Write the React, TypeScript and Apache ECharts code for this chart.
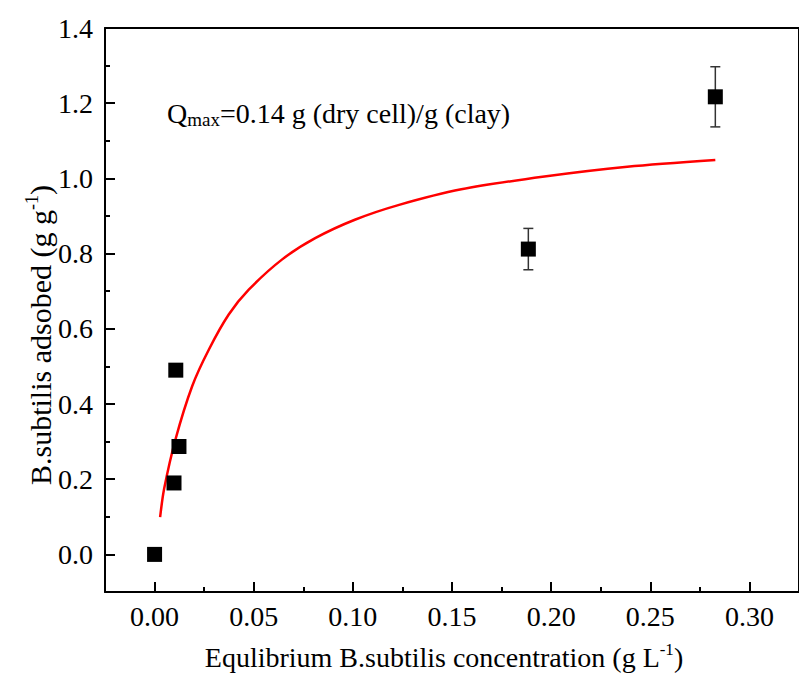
import React, { useEffect, useRef } from "react";
import * as echarts from "echarts";

const xMajorTicks = [0, 0.05, 0.1, 0.15, 0.2, 0.25, 0.3];
const xMinorTicks = [0.025, 0.075, 0.125, 0.175, 0.225, 0.275];
const yMajorTicks = [0, 0.2, 0.4, 0.6, 0.8, 1.0, 1.2, 1.4];
const yMinorTicks = [0.1, 0.3, 0.5, 0.7, 0.9, 1.1, 1.3];

const pointX = [0.0, 0.0107, 0.0123, 0.0098, 0.1885, 0.2828];
const pointY = [0.0, 0.49, 0.287, 0.19, 0.812, 1.217];
const pointErr = [0, 0, 0, 0, 0.055, 0.08];

const curveX = [0.0028, 0.0048, 0.0106, 0.019, 0.0274, 0.0374, 0.0475, 0.0642, 0.081, 0.101, 0.1229, 0.1547, 0.1966, 0.2384, 0.2828];
const curveY = [0.099, 0.174, 0.307, 0.448, 0.545, 0.638, 0.704, 0.784, 0.841, 0.89, 0.929, 0.971, 1.005, 1.031, 1.049];

const FONT = "'Liberation Serif', 'Times New Roman', serif";

export default function App() {
  const ref = useRef<HTMLDivElement>(null);
  useEffect(() => {
    if (!ref.current) return;
    const chart = echarts.init(ref.current, undefined, { renderer: "svg" });
    const scatterData = pointX.map((x, i) => [x, pointY[i]]);
    const errData = pointX
      .map((x, i) => [x, pointY[i] - pointErr[i], pointY[i] + pointErr[i], pointErr[i]])
      .filter((d) => d[3] > 0);
    const curveData = curveX.map((x, i) => [x, curveY[i]]);
    const axisLine = { show: true, onZero: false, lineStyle: { color: "#000", width: 2 } };
    const noLine = { show: false, onZero: false };
    const titleRich = (size: number) => ({
      t: { fontFamily: FONT, fontSize: size, fill: "#000", lineHeight: size + 4 },
      s: { fontFamily: FONT, fontSize: Math.round(size * 0.6), fill: "#000", lineHeight: size + 4, verticalAlign: "top", padding: [0, 0, Math.round(size * 0.45), 0] },
    });
    chart.setOption({
      animation: false,
      backgroundColor: "#fff",
      grid: { left: 105, top: 28, width: 697, height: 564 },
      xAxis: [
        {
          type: "value",
          min: -0.025,
          max: 0.325,
          position: "bottom",
          axisLine,
          splitLine: { show: false },
          axisTick: { show: true, inside: true, length: 10, customValues: xMajorTicks, lineStyle: { color: "#000", width: 2 } },
          axisLabel: {
            customValues: xMajorTicks,
            margin: 10,
            color: "#000",
            fontFamily: FONT,
            fontSize: 28,
            formatter: (v: number) => v.toFixed(2),
          },
        },
        {
          type: "value",
          min: -0.025,
          max: 0.325,
          position: "bottom",
          axisLine: noLine,
          splitLine: { show: false },
          axisTick: { show: true, inside: true, length: 5, customValues: xMinorTicks, lineStyle: { color: "#000", width: 2 } },
          axisLabel: { show: false },
        },
        {
          type: "value",
          min: -0.025,
          max: 0.325,
          position: "top",
          axisLine,
          splitLine: { show: false },
          axisTick: { show: false },
          axisLabel: { show: false },
        },
      ],
      yAxis: [
        {
          type: "value",
          min: -0.1,
          max: 1.4,
          position: "left",
          axisLine,
          splitLine: { show: false },
          axisTick: { show: true, inside: true, length: 10, customValues: yMajorTicks, lineStyle: { color: "#000", width: 2 } },
          axisLabel: {
            customValues: yMajorTicks,
            margin: 12,
            color: "#000",
            fontFamily: FONT,
            fontSize: 28,
            formatter: (v: number) => v.toFixed(1),
          },
        },
        {
          type: "value",
          min: -0.1,
          max: 1.4,
          position: "left",
          axisLine: noLine,
          splitLine: { show: false },
          axisTick: { show: true, inside: true, length: 5, customValues: yMinorTicks, lineStyle: { color: "#000", width: 2 } },
          axisLabel: { show: false },
        },
        {
          type: "value",
          min: -0.1,
          max: 1.4,
          position: "right",
          axisLine,
          splitLine: { show: false },
          axisTick: { show: false },
          axisLabel: { show: false },
        },
      ],
      graphic: [
        {
          type: "text",
          left: 167,
          top: 99,
          style: {
            text: "{q|Q}{s|max}{q|=0.14 g (dry cell)/g (clay)}",
            rich: {
              q: { fontFamily: FONT, fontSize: 28, fill: "#000", lineHeight: 32 },
              s: { fontFamily: FONT, fontSize: 19, fill: "#000", lineHeight: 32, verticalAlign: "bottom" },
            },
          },
        },
        {
          type: "text",
          x: 444,
          y: 657,
          style: {
            text: "{t|Equlibrium B.subtilis concentration (g L}{s|-1}{t|)}",
            align: "center",
            verticalAlign: "middle",
            rich: titleRich(28),
          },
        },
        {
          type: "text",
          x: 40,
          y: 335,
          rotation: Math.PI / 2,
          style: {
            text: "{t|B.subtilis adsobed (g g}{s|-1}{t|)}",
            align: "center",
            verticalAlign: "middle",
            rich: titleRich(30),
          },
        },
      ],
      series: [
        {
          type: "line",
          data: curveData,
          smooth: 0.3,
          showSymbol: false,
          symbol: "none",
          lineStyle: { color: "#ff0000", width: 2.5 },
          z: 2,
        },
        {
          type: "custom",
          data: errData,
          z: 3,
          renderItem: (params: any, api: any) => {
            const x = api.value(0);
            const lo = api.coord([x, api.value(1)]);
            const hi = api.coord([x, api.value(2)]);
            const w = 5;
            const style = { stroke: "#333", lineWidth: 1.5 };
            return {
              type: "group",
              children: [
                { type: "line", shape: { x1: lo[0], y1: lo[1], x2: hi[0], y2: hi[1] }, style },
                { type: "line", shape: { x1: lo[0] - w, y1: lo[1], x2: lo[0] + w, y2: lo[1] }, style },
                { type: "line", shape: { x1: hi[0] - w, y1: hi[1], x2: hi[0] + w, y2: hi[1] }, style },
              ],
            };
          },
        },
        {
          type: "scatter",
          data: scatterData,
          symbol: "rect",
          symbolSize: 15,
          itemStyle: { color: "#000", opacity: 1 },
          z: 4,
        },
      ],
    });
    return () => chart.dispose();
  }, []);
  return (
    <div
      ref={ref}
      style={{ position: "fixed", left: 0, top: 0, width: 799, height: 689, background: "#fff" }}
    />
  );
}
